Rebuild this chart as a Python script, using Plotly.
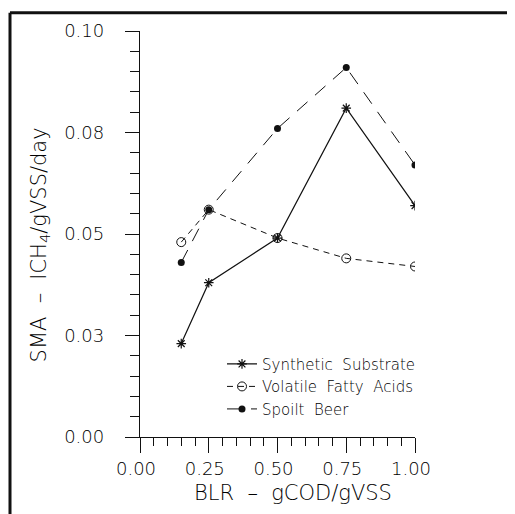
import plotly.graph_objects as go

# ---- data ----
blr = [0.15, 0.25, 0.50, 0.75, 1.00]
synthetic_substrate = [0.023, 0.038, 0.049, 0.081, 0.057]
volatile_fatty_acids = [0.048, 0.056, 0.049, 0.044, 0.042]
spoilt_beer = [0.043, 0.056, 0.076, 0.091, 0.067]

x_tickvals = [0.0, 0.25, 0.5, 0.75, 1.0]
x_ticktext = ["0.00", "0.25", "0.50", "0.75", "1.00"]
y_tickvals = [0.0, 0.025, 0.05, 0.075, 0.1]
y_ticktext = ["0.00", "0.03", "0.05", "0.08", "0.10"]

# page body has an 8px margin: shift everything up/left by 8
OFF = 8
W, H = 515 - OFF, 514 - OFF
# plot area in window pixels: x 140..415, y 28..437
L, T = 140 - OFF, 28 - OFF
R = W - (415 - OFF)
B = H - (437 - OFF)
PW, PH = W - L - R, H - T - B


def px_x(p):  # p in window pixels
    return (p - OFF - L) / PW


def px_y(p):
    return (H - B - (p - OFF)) / PH


TICKFONT = dict(family="DejaVu Sans", size=18, color="#000000", weight=200)
TITLEFONT = dict(family="DejaVu Sans", size=21, color="#000000", weight=200)
INK = "#111111"

fig = go.Figure()
fig.add_trace(go.Scatter(
    x=blr, y=synthetic_substrate, name="Synthetic  Substrate",
    mode="lines+markers",
    line=dict(color=INK, width=1.2),
    marker=dict(symbol="asterisk-open", size=8, line=dict(color=INK, width=1.2)),
))
fig.add_trace(go.Scatter(
    x=blr, y=volatile_fatty_acids, name="Volatile  Fatty  Acids",
    mode="lines+markers",
    line=dict(color=INK, width=1, dash="6px,5px"),
    marker=dict(symbol="circle-open", size=9, color=INK, line=dict(color=INK, width=1)),
))
fig.add_trace(go.Scatter(
    x=blr, y=spoilt_beer, name="Spoilt  Beer",
    mode="lines+markers",
    line=dict(color=INK, width=1, dash="14px,10px"),
    marker=dict(symbol="circle", size=7, color=INK),
))

axis_common = dict(
    showline=True, linecolor=INK, linewidth=1.3,
    ticks="outside", tickcolor=INK, tickwidth=1.3,
    showgrid=False, zeroline=False, tickfont=TICKFONT,
)

fig.update_xaxes(
    range=[0, 1], tickmode="array", tickvals=x_tickvals, ticktext=x_ticktext,
    ticklen=15, ticklabelstandoff=0, ticklabelshift=-4,
    minor=dict(dtick=0.05, ticks="outside", ticklen=8, tickcolor=INK, tickwidth=1.2, showgrid=False),
    **axis_common,
)
fig.update_yaxes(
    range=[0, 0.1], tickmode="array", tickvals=y_tickvals, ticktext=y_ticktext,
    ticklen=14, ticklabelstandoff=17,
    minor=dict(dtick=0.005, ticks="outside", ticklen=9, tickcolor=INK, tickwidth=1.2, showgrid=False),
    **axis_common,
)

fig.update_layout(
    width=W, height=H,
    margin=dict(l=L, r=R, t=T, b=B),
    paper_bgcolor="white", plot_bgcolor="white",
    font=TICKFONT,
    showlegend=True,
    legend=dict(
        x=px_x(222), y=px_y(347), xanchor="left", yanchor="top",
        bgcolor="rgba(0,0,0,0)",
        font=dict(family="DejaVu Sans", size=15, color="#000000", weight=200),
        tracegroupgap=0, itemwidth=30,
    ),
    annotations=[
        dict(text="BLR  –  gCOD/gVSS", x=px_x(293), y=px_y(493), xref="paper", yref="paper",
             showarrow=False, xanchor="center", yanchor="middle", font=TITLEFONT),
        dict(text="SMA  –  lCH<sub>4</sub>/gVSS/day", x=px_x(40), y=px_y(244), xref="paper", yref="paper",
             showarrow=False, textangle=-90, xanchor="center", yanchor="middle", font=TITLEFONT),
    ],
    shapes=[
        dict(type="line", xref="paper", yref="paper", x0=px_x(10), x1=px_x(530),
             y0=px_y(9.5), y1=px_y(9.5), line=dict(color=INK, width=3)),
        dict(type="line", xref="paper", yref="paper", x0=px_x(10), x1=px_x(10),
             y0=px_y(9.5), y1=px_y(530), line=dict(color=INK, width=3)),
    ],
)

fig.write_html("out.html")
